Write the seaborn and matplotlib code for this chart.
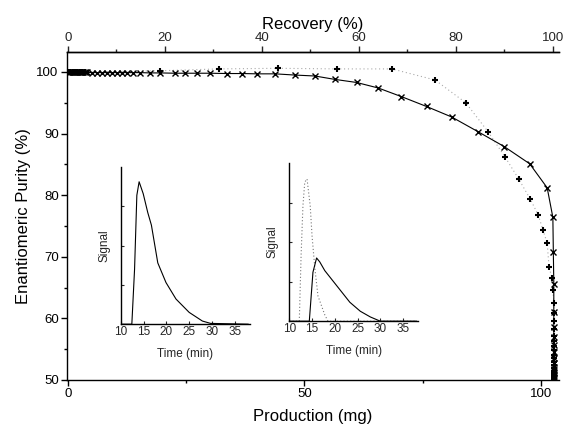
import numpy as np
import pandas as pd
import matplotlib
matplotlib.use("Agg")
import matplotlib.pyplot as plt
from matplotlib.ticker import MultipleLocator, NullFormatter
import seaborn as sns

# ---------------- data ----------------
# Series 1 (x markers, solid line): production (mg) vs enantiomeric purity (%)
x_prod = [0.0, 0.25, 0.5, 0.75, 1.0, 1.25, 1.5, 1.75, 2.0, 2.25, 2.5, 2.75, 3.0, 3.25, 3.5, 3.75, 4.0,
          5.1, 6.1, 7.2, 8.2, 9.3, 10.4, 11.4, 12.5, 13.7, 15.2, 17.3, 19.5, 22.6, 24.7, 27.3,
          30.0, 33.6, 36.8, 40.0, 43.8, 48.0, 52.2, 56.4, 61.0, 65.6, 70.5, 75.8, 81.1, 86.7,
          92.2, 97.6, 101.3, 102.5, 102.6, 102.7, 102.7, 102.7, 102.7, 102.7, 102.7, 102.7,
          102.7, 102.7, 102.7, 102.7, 102.7, 102.7, 102.7]
x_pur = [99.95, 99.95, 99.95, 99.95, 99.95, 99.95, 99.95, 99.95, 99.95, 99.95, 99.95, 99.95, 99.95,
         99.95, 99.95, 99.95, 99.95,
         99.9, 99.9, 99.9, 99.9, 99.9, 99.9, 99.9, 99.9, 99.9, 99.9, 99.85, 99.85, 99.8, 99.8, 99.8,
         99.8, 99.75, 99.75, 99.7, 99.7, 99.5, 99.35, 98.8, 98.3, 97.4, 96.0, 94.4, 92.7, 90.3,
         87.9, 85.1, 81.2, 76.4, 70.8, 65.6, 61.0, 58.6, 57.0, 55.7, 54.5, 53.6, 52.7, 52.1,
         51.6, 51.1, 50.8, 50.5, 50.3]

# Series 2 (+ markers, dotted line)
p_prod = [0.0, 0.5, 1.0, 1.5, 2.0, 2.5, 3.0, 3.5, 19.5, 31.9, 44.4, 56.9, 68.5, 77.6, 84.1, 88.8,
          92.4, 95.3, 97.7, 99.4, 100.4, 101.3, 101.7, 102.3, 102.5, 102.7, 102.7, 102.7, 102.7,
          102.7, 102.7, 102.7, 102.7, 102.7, 102.7, 102.7, 102.7, 102.7, 102.7, 102.7, 102.7,
          102.7, 102.7, 102.7]
p_pur = [100.0, 100.0, 100.0, 100.0, 100.0, 100.0, 100.0, 100.0, 100.2, 100.5, 100.6, 100.5, 100.5,
         98.7, 95.0, 90.3, 86.2, 82.6, 79.4, 76.8, 74.4, 72.2, 68.3, 66.6, 64.6, 62.5, 60.8,
         59.5, 58.3, 57.2, 56.3, 55.5, 54.8, 54.1, 53.5, 52.9, 52.4, 51.9, 51.5, 51.1, 50.8,
         50.5, 50.3, 50.1]

# Inset 1 chromatogram
t1 = [10.0, 12.4, 13.0, 13.5, 14.0, 14.9, 15.9, 16.7, 18.1, 19.9, 22.1, 25.0, 27.9, 29.7, 38.0]
s1 = [0.0, 0.0, 0.35, 0.82, 0.906, 0.83, 0.71, 0.63, 0.39, 0.265, 0.16, 0.075, 0.02, 0.005, 0.0]

# Inset 2 chromatograms (dotted: first peak, solid: second peak)
t2a = [10.0, 12.2, 12.6, 13.0, 13.4, 13.9, 14.6, 15.0, 15.6, 16.3, 17.8, 18.5, 38.0]
s2a = [0.0, 0.0, 0.42, 0.73, 0.88, 0.90, 0.73, 0.54, 0.34, 0.16, 0.04, 0.0, 0.0]
t2b = [10.0, 14.4, 15.2, 16.0, 16.7, 17.8, 18.9, 21.1, 23.3, 25.6, 27.8, 30.0, 38.0]
s2b = [0.0, 0.0, 0.31, 0.40, 0.375, 0.32, 0.28, 0.20, 0.12, 0.063, 0.027, 0.0, 0.0]

inset_xticks = [10, 15, 20, 25, 30, 35]
main_yticks = [50, 60, 70, 80, 90, 100]
main_xticks = [0, 50, 100]
top_xticks = [0, 20, 40, 60, 80, 100]
full_recovery_mg = 102.5

# ---------------- style ----------------
sns.set_theme(style="ticks")
plt.rcParams["font.family"] = ["Liberation Sans", "DejaVu Sans"]
plt.rcParams["axes.linewidth"] = 1.0

fig = plt.figure(figsize=(5.65, 4.26), dpi=100)
ax = fig.add_axes([0.1186, 0.108, 0.8708, 0.770])

df1 = pd.DataFrame({"prod": x_prod, "pur": x_pur})
df2 = pd.DataFrame({"prod": p_prod, "pur": p_pur})

sns.lineplot(data=df2, x="prod", y="pur", ax=ax, sort=False, estimator=None,
             color="#aaaaaa", linestyle=(0, (1, 2.5)), linewidth=0.8)
sns.lineplot(data=df2, x="prod", y="pur", ax=ax, sort=False, estimator=None,
             color="black", linestyle="none", marker="+", markersize=4.5,
             markeredgewidth=1.5, markeredgecolor="black")
sns.lineplot(data=df1, x="prod", y="pur", ax=ax, sort=False, estimator=None,
             color="black", linewidth=0.8, marker="x", markersize=5,
             markeredgewidth=1.0, markeredgecolor="black")

ax.set_xlim(-0.2, 103.8)
ax.set_ylim(50, 103.25)
ax.set_xticks(main_xticks)
ax.set_yticks(main_yticks)
ax.xaxis.set_minor_locator(MultipleLocator(25))
ax.yaxis.set_minor_locator(MultipleLocator(5))
ax.tick_params(axis="both", which="major", direction="out", length=4, width=1, labelsize=9.5,
               color="black", labelcolor="black", pad=2)
ax.tick_params(axis="both", which="minor", direction="out", length=2.5, width=1, color="black")
ax.spines["right"].set_visible(False)
for s in ["left", "bottom", "top"]:
    ax.spines[s].set_color("black")
ax.set_xlabel("Production (mg)", fontsize=12, color="black", labelpad=6)
ax.set_ylabel("Enantiomeric Purity (%)", fontsize=12, color="black", labelpad=4)

sec = ax.secondary_xaxis("top", functions=(lambda m: m / full_recovery_mg * 100,
                                           lambda r: r * full_recovery_mg / 100))
sec.set_xticks(top_xticks)
sec.xaxis.set_minor_locator(MultipleLocator(10))
sec.tick_params(axis="x", which="major", direction="out", length=4, width=1, labelsize=9.5, pad=2)
sec.tick_params(axis="x", which="minor", direction="out", length=2.5, width=1)
sec.set_xlabel("Recovery (%)", fontsize=12, color="black", labelpad=2)
sec.spines["top"].set_color("black")


def style_inset(a):
    a.set_xlim(10, 38.3)
    a.set_ylim(0, 1.0)
    a.set_xticks(inset_xticks)
    a.set_yticks([0.25, 0.5, 0.75])
    a.yaxis.set_major_formatter(NullFormatter())
    a.tick_params(axis="both", direction="in", length=2, width=0.8, labelsize=8.5, pad=1.5)
    a.tick_params(axis="y", length=2.5)
    for s in ["top", "right"]:
        a.spines[s].set_visible(False)
    for s in ["left", "bottom"]:
        a.spines[s].set_color("black")
        a.spines[s].set_linewidth(1.0)
    a.set_facecolor("none")
    a.set_xlabel("Time (min)", fontsize=8.5, labelpad=7)
    a.set_ylabel("Signal", fontsize=8.5, labelpad=6)


ins1 = fig.add_axes([0.214, 0.239, 0.228, 0.369])
sns.lineplot(x=t1, y=s1, ax=ins1, sort=False, estimator=None, color="black", linewidth=0.8)
style_inset(ins1)

ins2 = fig.add_axes([0.512, 0.246, 0.228, 0.371])
sns.lineplot(x=t2a, y=s2a, ax=ins2, sort=False, estimator=None, color="#777777",
             linestyle=(0, (1, 2)), linewidth=0.8)
sns.lineplot(x=t2b, y=s2b, ax=ins2, sort=False, estimator=None, color="black", linewidth=0.8)
style_inset(ins2)

fig.savefig("out.png", dpi=100, facecolor="white")
